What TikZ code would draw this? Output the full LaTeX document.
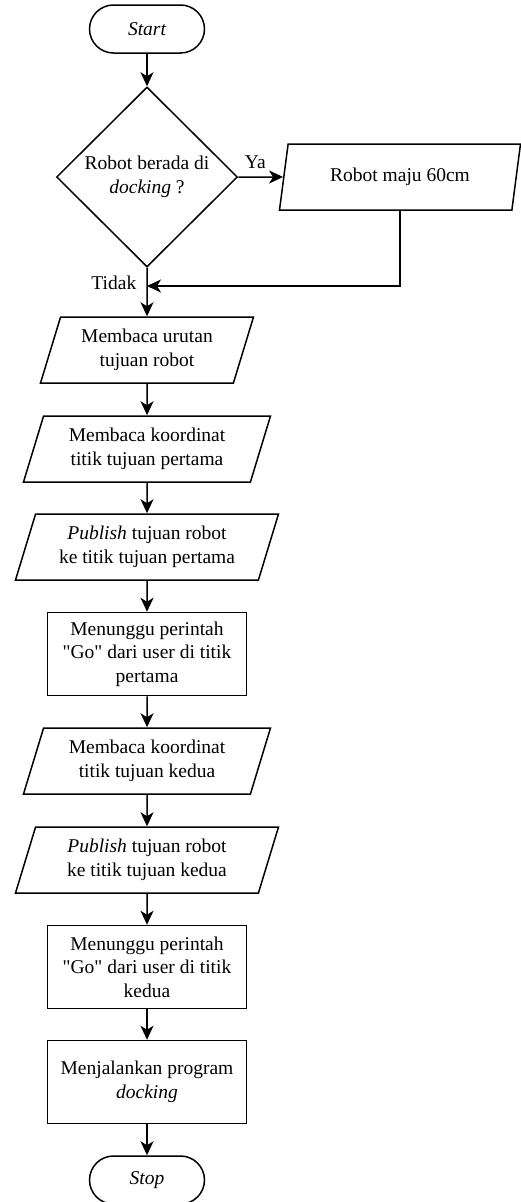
\documentclass[tikz,border=0pt]{standalone}
\usepackage{fontspec}
\setmainfont{Liberation Serif}
\usetikzlibrary{arrows.meta,shapes.geometric}

\newcommand{\flowfont}{\fontsize{19.5}{23.5}\selectfont}

\begin{document}
\begin{tikzpicture}[
    x=1pt, y=-1pt,
    terminal/.style={
        rectangle, draw, rounded corners=24pt,
        minimum width=115pt, minimum height=48pt,
        font=\flowfont\itshape
    },
    decision/.style={
        diamond, draw, inner sep=0pt,
        minimum width=181pt, minimum height=180pt,
        align=center, font=\flowfont
    },
    io/.style={
        trapezium, draw, inner sep=0pt,
        trapezium left angle=64, trapezium right angle=116,
        trapezium stretches body, minimum height=66pt,
        align=center, font=\flowfont
    },
    process/.style={
        rectangle, draw, inner sep=0pt,
        minimum width=199pt, minimum height=83pt,
        align=center, font=\flowfont
    },
    >={Stealth[length=14pt, width=13pt, inset=4pt]}, line width=1.5pt,
    lbl/.style={font=\flowfont, inner sep=2pt}
]
\useasboundingbox (0,0) rectangle (520,1202);

\node[terminal] (start)   at (147,   29) {Start};
\node[decision] (cekdock) at (147,  177) {Robot berada di\\\textit{docking} ?};
\node[io, minimum width=241pt] (maju) at (400, 177) {Robot maju 60cm};
\coordinate (join) at (147, 286);
\node[io, minimum width=213pt] (urutan) at (147, 350) {Membaca urutan\\tujuan robot};
\node[io, minimum width=247pt] (koord1) at (147, 449) {Membaca koordinat\\titik tujuan pertama};
\node[io, minimum width=263pt] (pub1)   at (147, 547) {\textit{Publish} tujuan robot\\ke titik tujuan pertama};
\node[process]  (tunggu1) at (147,  654) {Menunggu perintah\\\textquotedbl Go\textquotedbl{} dari user di titik\\pertama};
\node[io, minimum width=247pt] (koord2) at (147, 761) {Membaca koordinat\\titik tujuan kedua};
\node[io, minimum width=263pt] (pub2)   at (147, 860) {\textit{Publish} tujuan robot\\ke titik tujuan kedua};
\node[process]  (tunggu2) at (147,  967) {Menunggu perintah\\\textquotedbl Go\textquotedbl{} dari user di titik\\kedua};
\node[process]  (docking) at (147, 1082) {Menjalankan program\\\textit{docking}};
\node[terminal] (stop)    at (147, 1180) {Stop};

\draw[->] (start.south)   -- (cekdock.north);
\draw[->] (cekdock.east)  -- node[lbl, above, pos=0.38, yshift=6pt]{Ya} (maju.west);
\draw[->] (cekdock.south) -- node[lbl, left, pos=0.32, xshift=-8pt]{Tidak} (urutan.north);
\draw[->] (maju.south)    |- (join);
\draw[->] (urutan.south)  -- (koord1.north);
\draw[->] (koord1.south)  -- (pub1.north);
\draw[->] (pub1.south)    -- (tunggu1.north);
\draw[->] (tunggu1.south) -- (koord2.north);
\draw[->] (koord2.south)  -- (pub2.north);
\draw[->] (pub2.south)    -- (tunggu2.north);
\draw[->] (tunggu2.south) -- (docking.north);
\draw[->] (docking.south) -- (stop.north);

\end{tikzpicture}
\end{document}
